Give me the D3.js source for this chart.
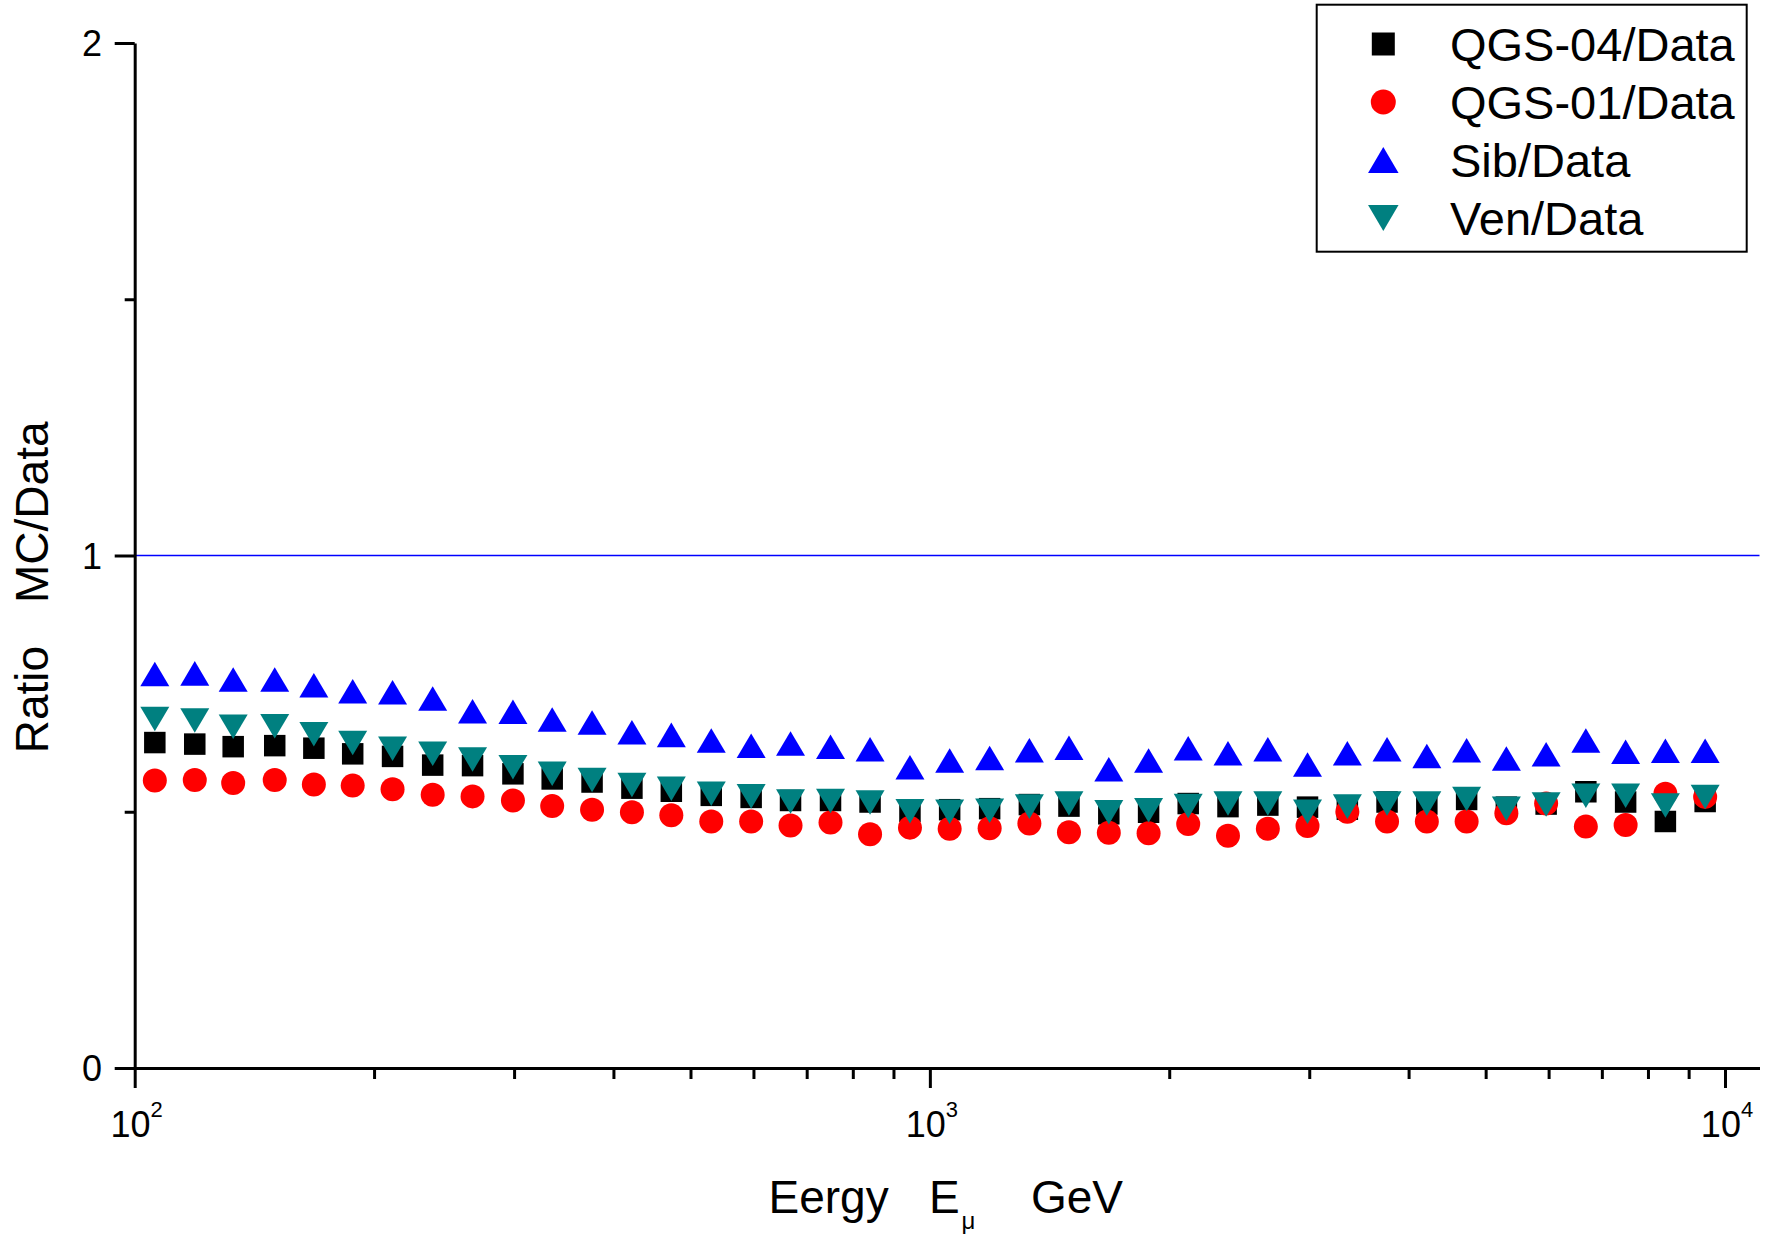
<!DOCTYPE html>
<html>
<head>
<meta charset="utf-8">
<script src="https://cdn.jsdelivr.net/npm/d3@7"></script>
<style>
  html, body { margin: 0; padding: 0; background: #fff; }
  svg { display: block; }
</style>
</head>
<body>
<svg id="chart" width="1773" height="1235"></svg>
<script>
// Muon energy bin centres (GeV)
const energies = [106, 119, 133, 150, 168, 188, 211, 237, 266, 299,
                  335, 376, 422, 473, 531, 596, 668, 750, 841, 944,
                  1059, 1189, 1334, 1496, 1679, 1884, 2113, 2371, 2661, 2985,
                  3350, 3758, 4217, 4732, 5309, 5957, 6683, 7499, 8414, 9441];

// MC / Data ratios for each interaction model
const qgs04 = [0.635, 0.632, 0.627, 0.629, 0.624, 0.613, 0.608, 0.591, 0.590, 0.574,
               0.564, 0.558, 0.546, 0.540, 0.532, 0.528, 0.522, 0.522, 0.519, 0.501,
               0.504, 0.506, 0.514, 0.511, 0.496, 0.499, 0.516, 0.510, 0.513, 0.509,
               0.505, 0.519, 0.515, 0.524, 0.509, 0.515, 0.539, 0.519, 0.481, 0.520];

const qgs01 = [0.561, 0.562, 0.556, 0.562, 0.553, 0.551, 0.544, 0.533, 0.530, 0.522,
               0.511, 0.504, 0.499, 0.493, 0.481, 0.481, 0.473, 0.479, 0.456, 0.469,
               0.467, 0.468, 0.477, 0.460, 0.459, 0.458, 0.476, 0.453, 0.467, 0.472,
               0.500, 0.481, 0.481, 0.481, 0.497, 0.516, 0.471, 0.474, 0.535, 0.529];

const sib =   [0.769, 0.770, 0.758, 0.758, 0.747, 0.735, 0.733, 0.721, 0.696, 0.695,
               0.680, 0.674, 0.655, 0.650, 0.639, 0.629, 0.633, 0.627, 0.622, 0.587,
               0.600, 0.605, 0.620, 0.625, 0.583, 0.600, 0.624, 0.614, 0.622, 0.592,
               0.614, 0.622, 0.609, 0.620, 0.604, 0.612, 0.639, 0.617, 0.619, 0.619];

const ven =   [0.681, 0.678, 0.666, 0.667, 0.651, 0.634, 0.623, 0.613, 0.602, 0.587,
               0.574, 0.562, 0.552, 0.545, 0.535, 0.530, 0.520, 0.521, 0.518, 0.501,
               0.500, 0.502, 0.510, 0.516, 0.499, 0.503, 0.511, 0.516, 0.516, 0.500,
               0.510, 0.516, 0.516, 0.525, 0.506, 0.514, 0.531, 0.531, 0.512, 0.529];

const seriesNames = ["QGS-04/Data", "QGS-01/Data", "Sib/Data", "Ven/Data"];

// Axis ticks and labels
const xMajorTicks = [100, 1000, 10000];
const xTickExponents = ["2", "3", "4"];
const xMinorTicks = [200, 300, 400, 500, 600, 700, 800, 900,
                     2000, 3000, 4000, 5000, 6000, 7000, 8000, 9000];
const yMajorTicks = [0, 1, 2];
const yTickLabels = ["0", "1", "2"];
const yMinorTicks = [0.5, 1.5];
const referenceRatio = 1;

const FONT = "'Liberation Sans', Arial, Helvetica, sans-serif";
const svg = d3.select("#chart");

const x = d3.scaleLog().domain([100, 11050]).range([134.7, 1759.5]);
const y = d3.scaleLinear().domain([0, 2]).range([1068, 43]);

// Marker shapes, sized by their full width
const squareSym = { draw(ctx, s) { const h = s / 2; ctx.rect(-h, -h, s, s); } };
const circleSym = { draw(ctx, s) { const r = s / 2; ctx.moveTo(r, 0); ctx.arc(0, 0, r, 0, 2 * Math.PI); } };
const triUpSym = { draw(ctx, s) {
  const w = s / 2, h = s * 0.845 / 2;
  ctx.moveTo(0, -h); ctx.lineTo(w, h); ctx.lineTo(-w, h); ctx.closePath();
} };
const triDownSym = { draw(ctx, s) {
  const w = s / 2, h = s * 0.845 / 2;
  ctx.moveTo(0, h); ctx.lineTo(w, -h); ctx.lineTo(-w, -h); ctx.closePath();
} };

const series = [
  { name: seriesNames[0], values: qgs04, type: squareSym,  color: "#000000", size: 21.5, legendSize: 23 },
  { name: seriesNames[1], values: qgs01, type: circleSym,  color: "#ff0000", size: 24,   legendSize: 25 },
  { name: seriesNames[2], values: sib,   type: triUpSym,   color: "#0000ff", size: 29,   legendSize: 30.5 },
  { name: seriesNames[3], values: ven,   type: triDownSym, color: "#008080", size: 29,   legendSize: 30.5 }
];

// Reference line at ratio = 1
svg.append("line")
  .attr("x1", x.range()[0]).attr("x2", x.range()[1])
  .attr("y1", y(referenceRatio)).attr("y2", y(referenceRatio))
  .attr("stroke", "#0000ff").attr("stroke-width", 1.3);

// Data markers
series.forEach(s => {
  svg.append("g")
    .selectAll("path")
    .data(s.values.map((v, i) => [energies[i], v]))
    .join("path")
    .attr("transform", d => `translate(${x(d[0])},${y(d[1])})`)
    .attr("d", d3.symbol().type(s.type).size(s.size))
    .attr("fill", s.color);
});

// Axes
function styleAxis(g) {
  g.selectAll(".domain").attr("stroke", "#000").attr("stroke-width", 3);
  g.selectAll(".tick line").attr("stroke", "#000").attr("stroke-width", 3);
  g.selectAll(".tick text").remove();
}

const xAxisG = svg.append("g").attr("transform", `translate(0,${y(0)})`)
  .call(d3.axisBottom(x).tickValues(xMajorTicks).tickSize(20).tickSizeOuter(0).tickFormat(""));
styleAxis(xAxisG);
const xMinorG = svg.append("g").attr("transform", `translate(0,${y(0)})`)
  .call(d3.axisBottom(x).tickValues(xMinorTicks).tickSize(11).tickSizeOuter(0).tickFormat(""));
styleAxis(xMinorG);
xMinorG.select(".domain").remove();

const yAxisG = svg.append("g").attr("transform", `translate(${x(100)},0)`)
  .call(d3.axisLeft(y).tickValues(yMajorTicks).tickSize(20).tickSizeOuter(0).tickFormat(""));
styleAxis(yAxisG);
const yMinorG = svg.append("g").attr("transform", `translate(${x(100)},0)`)
  .call(d3.axisLeft(y).tickValues(yMinorTicks).tickSize(10).tickSizeOuter(0).tickFormat(""));
styleAxis(yMinorG);
yMinorG.select(".domain").remove();

// Y tick labels
svg.append("g").selectAll("text")
  .data(yMajorTicks)
  .join("text")
  .attr("x", 102)
  .attr("y", d => y(d) + 13)
  .attr("text-anchor", "end")
  .attr("font-family", FONT).attr("font-size", 36)
  .text((d, i) => yTickLabels[i]);

// X tick labels as powers of ten
const xLabels = svg.append("g").selectAll("text")
  .data(xMajorTicks)
  .join("text")
  .attr("x", d => x(d) + 2)
  .attr("y", 1137)
  .attr("text-anchor", "middle")
  .attr("font-family", FONT).attr("font-size", 36);
xLabels.append("tspan").text("10");
xLabels.append("tspan").attr("dy", -20).attr("font-size", 22).text((d, i) => xTickExponents[i]);

// Axis titles
const xTitle = svg.append("text")
  .attr("y", 1213)
  .attr("font-family", FONT).attr("font-size", 46);
xTitle.append("tspan").attr("x", 768.5).text("Eergy");
xTitle.append("tspan").attr("x", 929).text("E");
xTitle.append("tspan").attr("x", 961.5).attr("dy", 16).attr("font-size", 24).text("μ");
xTitle.append("tspan").attr("x", 1031).attr("dy", -16).text("GeV");

const yTitle = svg.append("text")
  .attr("transform", "translate(48,587.4) rotate(-90)")
  .attr("text-anchor", "middle")
  .attr("font-family", FONT).attr("font-size", 46);
yTitle.append("tspan").text("Ratio");
yTitle.append("tspan").attr("dx", 43).text("MC/Data");

// Legend
const legend = svg.append("g");
legend.append("rect")
  .attr("x", 1316.7).attr("y", 4.7)
  .attr("width", 430).attr("height", 247)
  .attr("fill", "#fff").attr("stroke", "#000").attr("stroke-width", 2);

const rowY = [44, 102, 160, 218];
series.forEach((s, i) => {
  legend.append("path")
    .attr("transform", `translate(1383.3,${rowY[i]})`)
    .attr("d", d3.symbol().type(s.type).size(s.legendSize))
    .attr("fill", s.color);
  legend.append("text")
    .attr("x", 1450).attr("y", rowY[i] + 16.8)
    .attr("font-family", FONT).attr("font-size", 47)
    .text(s.name);
});
</script>
</body>
</html>
